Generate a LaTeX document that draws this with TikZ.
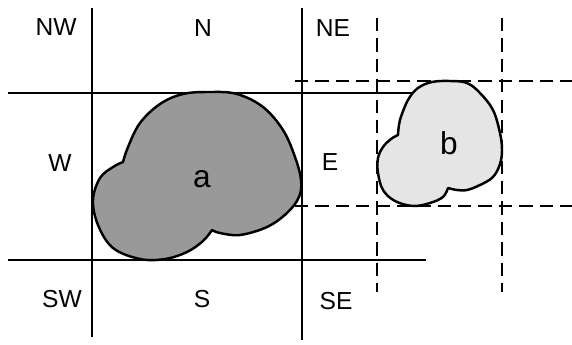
\documentclass[tikz,border=0pt]{standalone}
\usepackage{fontspec}
\setmainfont{Liberation Sans}
\usetikzlibrary{positioning}
\definecolor{darkblob}{rgb}{0.6,0.6,0.6}
\definecolor{lightblob}{rgb}{0.9,0.9,0.9}

\begin{document}
\begin{tikzpicture}[
            x = 0.02cm, y = -0.02cm, % pixel grid, y runs down
            line width = 1.3pt, % line style
            font = \fontsize{14}{16}\selectfont
        ]

        \tikzstyle{mbr}=[
            line width = 1.6pt,
            dash pattern = on 7.6pt off 4pt
        ]
        \tikzstyle{blob}=[
            draw,
            line width = 1.4pt,
            line join = round
        ]
        \tikzstyle{dir}=[inner sep = 0pt]
        \tikzstyle{obj}=[inner sep = 0pt, font = \fontsize{18}{20}\selectfont]

        \useasboundingbox (0,0) rectangle (572,345);

	% solid partition around a
        \draw (92,8) -- (92,337);
        \draw (302,8) -- (302,340);
        \draw (8,93) -- (415,93);
        \draw (8,260) -- (426,260);

	% dashed box around b
        \draw[mbr] (377,18) -- (377,292);
        \draw[mbr] (502,18) -- (502,292);
        \draw[mbr] (295,81) -- (572,81);
        \draw[mbr] (295,206) -- (572,206);

	% objects
        \draw[blob, fill = darkblob]
            plot[smooth, tension = 0.6] coordinates {(123,162) (128,147) (140,123) (160,104) (183,94) (210,92) (237,94) (263,107) (283,130) (295,157) (301,180) (299,197) (287,213) (267,227) (240,235) (220,233) (212,230)}
            -- plot[smooth, tension = 0.6] coordinates {(212,230) (203,241) (187,252) (165,259) (140,259) (113,248) (98,225) (93,200) (100,178) (113,167) (123,162)}
            -- cycle;
        \draw[blob, fill = lightblob]
            plot[smooth, tension = 0.6] coordinates {(398,135) (400,120) (408,100) (418,88) (432,82) (450,81) (467,83) (480,93) (493,110) (500,133) (502,150) (500,164) (493,177) (480,185) (467,190) (457,190) (448,188)}
            -- plot[smooth, tension = 0.6] coordinates {(448,188) (443,197) (430,203) (413,206) (395,201) (383,190) (378,173) (378,158) (383,147) (391,139) (398,135)}
            -- cycle;

	% labels
        \node[dir] (NW) at (56,27) {NW};
        \node[dir] (N) at (203,28) {N};
        \node[dir] (NE) at (333,28) {NE};
        \node[dir] (W) at (60,163) {W};
        \node[dir] (E) at (330,162) {E};
        \node[dir] (SW) at (62,299) {SW};
        \node[dir] (S) at (202,299) {S};
        \node[dir] (SE) at (336,301) {SE};
        \node[obj] (a) at (202,179) {a};
        \node[obj] (b) at (449,143) {b};

  \end{tikzpicture}
\end{document}
